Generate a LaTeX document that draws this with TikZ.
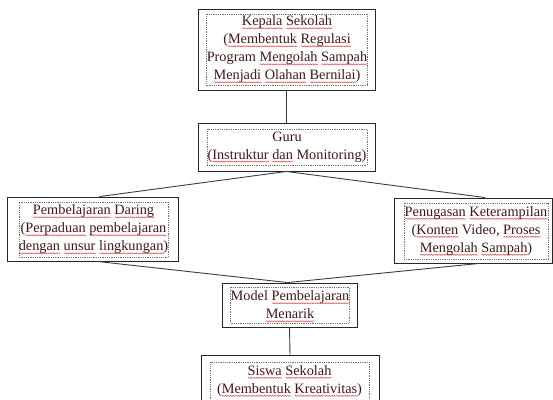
\documentclass[tikz,border=0pt]{standalone}
\usepackage{fontspec}
\setmainfont{Liberation Serif}
\usetikzlibrary{decorations.pathmorphing}
\definecolor{textc}{RGB}{70,22,22}
\definecolor{wavec}{RGB}{225,70,70}
\definecolor{linec}{RGB}{60,60,60}
\newsavebox\sqbox
\newcommand\sq[1]{\leavevmode\sbox\sqbox{#1}\rlap{\smash{\raisebox{-3.2pt}{\tikz[x=1cm,y=1cm]\draw[wavec, line width=0.5pt, decorate, decoration={snake, amplitude=0.55pt, segment length=2.6pt}] (0pt,0pt) -- (\wd\sqbox,0pt);}}}\usebox\sqbox}
\tikzset{
  outerbox/.style={draw=black!85, line width=0.9pt, inner sep=0pt, fill=white},
  innerbox/.style={draw=black!55, line width=0.6pt, dash pattern=on 0.9pt off 0.9pt, inner sep=0pt, align=center, text=textc, font=\fontsize{14.3}{18}\selectfont},
  conn/.style={draw=linec, line width=0.9pt},
}
\begin{document}
\begin{tikzpicture}[x=1pt,y=-1pt]
\useasboundingbox (0,0) rectangle (553,399);
\clip (0,0) rectangle (553,399);
% Kepala Sekolah
\node[outerbox, minimum width=177pt, minimum height=81pt] (b1) at (286.5,49.5) {};
\node[innerbox, minimum width=160pt, minimum height=71pt] (b1t) at (287,49.5) {\sq{Kepala} \sq{Sekolah}\\(\sq{Membentuk} \sq{Regulasi}\\Program \sq{Mengolah} \sq{Sampah}\\\sq{Menjadi} \sq{Olahan} \sq{Bernilai})};
% Guru
\node[outerbox, minimum width=177pt, minimum height=48pt] (b2) at (286.5,147) {};
\node[innerbox, minimum width=160pt, minimum height=36pt] (b2t) at (287,147) {Guru\\(\sq{Instruktur} \sq{dan} Monitoring)};
% Pembelajaran Daring
\node[outerbox, minimum width=171pt, minimum height=64pt] (b3) at (92.5,229) {};
\node[innerbox, minimum width=149pt, minimum height=55pt] (b3t) at (93.5,229.5) {\sq{Pembelajaran} \sq{Daring}\\(\sq{Perpaduan} \sq{pembelajaran}\\\sq{dengan} \sq{unsur} \sq{lingkungan})};
% Penugasan Keterampilan
\node[outerbox, minimum width=158pt, minimum height=65pt] (b4) at (473,230.5) {};
\node[innerbox, minimum width=144pt, minimum height=56pt] (b4t) at (476,231) {\sq{Penugasan} \sq{Keterampilan}\\(\sq{Konten} Video, \sq{Proses}\\\sq{Mengolah} \sq{Sampah})};
% Model Pembelajaran Menarik
\node[outerbox, minimum width=135pt, minimum height=44pt] (b5) at (289.5,305) {};
\node[innerbox, minimum width=116pt, minimum height=36pt] (b5t) at (290,305) {Model \sq{Pembelajaran}\\\sq{Menarik}};
% Siswa Sekolah
\node[outerbox, minimum width=178pt, minimum height=52pt] (b6) at (290,381) {};
\node[innerbox, minimum width=159pt, minimum height=38pt] (b6t) at (289.5,381) {\sq{Siswa} \sq{Sekolah}\\(\sq{Membentuk} \sq{Kreativitas})};
% connectors
\coordinate (b3top) at ([xshift=7pt]b3.north);
\coordinate (b4top) at ([xshift=12pt]b4.north);
\coordinate (b3bot) at ([xshift=5pt]b3.south);
\coordinate (b4bot) at ([xshift=6pt]b4.south);
\coordinate (b5top) at ([xshift=-2pt]b5.north);
\draw[conn] (b1.south) -- (b2.north);
\draw[conn] (b2.south) -- (b3top);
\draw[conn] (b2.south) -- (b4top);
\draw[conn] (b3bot) -- (b5top);
\draw[conn] (b4bot) -- (b5top);
\draw[conn] (b5.south) -- (b6.north);
\end{tikzpicture}
\end{document}
